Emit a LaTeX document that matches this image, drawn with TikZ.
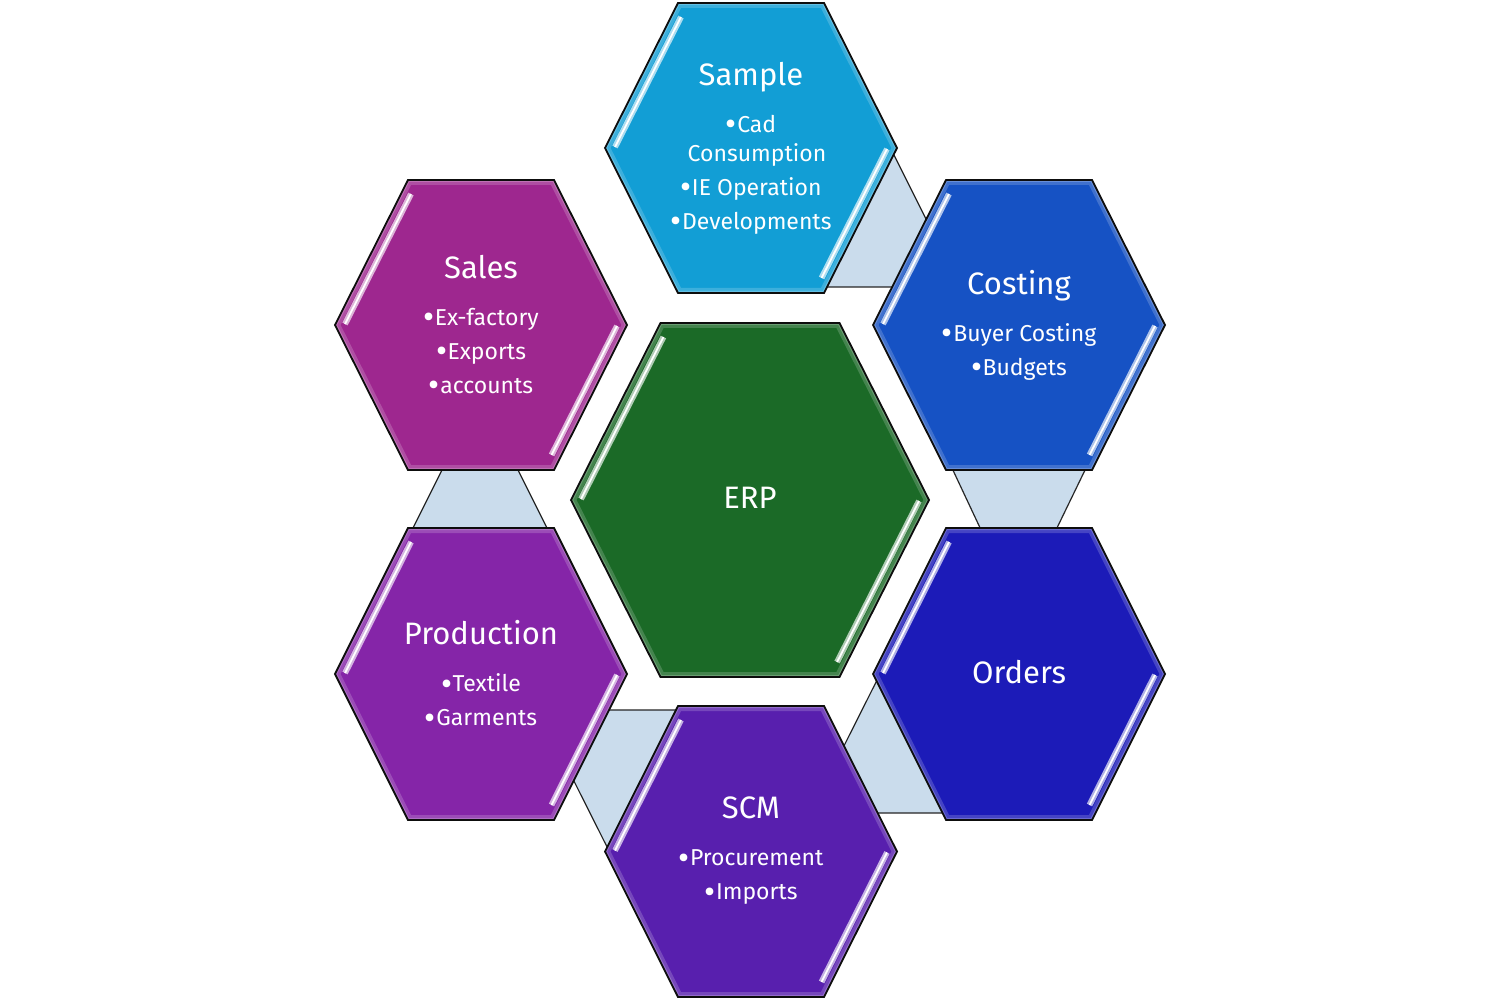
\documentclass[tikz,border=0pt]{standalone}
\usepackage{fontspec}
\setmainfont{Fira Sans}
\definecolor{cSample}{RGB}{18,158,213}
\definecolor{cCosting}{RGB}{22,82,196}
\definecolor{cOrders}{RGB}{28,27,184}
\definecolor{cSCM}{RGB}{88,31,174}
\definecolor{cProd}{RGB}{133,37,168}
\definecolor{cSales}{RGB}{158,39,143}
\definecolor{cERP}{RGB}{27,106,39}
\definecolor{cLink}{RGB}{202,220,236}
\newcommand\hxbody{\fontsize{23}{34}\selectfont}
\newcommand\hxtitle{\fontsize{31}{36}\selectfont}
\newcommand\hxbul{\raisebox{-3.2pt}{\fontsize{34}{34}\selectfont •}\kern0.5pt}
\tikzset{
  hexline/.style={draw=black!95, line width=1.8pt, line join=miter},
  streakhalo/.style={line width=6pt},
  streakcore/.style={draw=white, line width=1.8pt},
  linkshape/.style={fill=cLink, draw=black!85, line width=1.2pt, line join=round},
  hextext/.style={text=white, align=center, font=\hxbody, inner sep=0pt},
}
% #1 cx, #2 cy, #3 half width, #4 half height, #5 colour
\newcommand\hexa[5]{%
  \def\hexcoords{({#1-#3},{#2}) -- ({#1-#3/2},{#2-#4}) -- ({#1+#3/2},{#2-#4}) -- ({#1+#3},{#2}) -- ({#1+#3/2},{#2+#4}) -- ({#1-#3/2},{#2+#4}) -- cycle}%
  \fill[#5] \hexcoords;
  \begin{scope}
    \clip \hexcoords;
    \draw[line width=10pt, #5!40!white, opacity=.3] \hexcoords;
    \draw[line width=4pt, #5!40!white, opacity=.4] \hexcoords;
  \end{scope}
  \draw[streakhalo, #5!35!white] ({#1-#3+10},{#2-1}) -- ({#1-#3+#3/2*(#4-14)/#4+10},{#2-#4+14});
  \draw[streakcore] ({#1-#3+10},{#2-1}) -- ({#1-#3+#3/2*(#4-14)/#4+10},{#2-#4+14});
  \draw[streakhalo, #5!35!white] ({#1+#3-10},{#2+1}) -- ({#1+#3-#3/2*(#4-15)/#4-10},{#2+#4-15});
  \draw[streakcore] ({#1+#3-10},{#2+1}) -- ({#1+#3-#3/2*(#4-15)/#4-10},{#2+#4-15});
  \draw[hexline] \hexcoords;
}
\begin{document}
\begin{tikzpicture}[x=1pt,y=-1pt]
\useasboundingbox[fill=white] (0,0) rectangle (1500,1000);
% connecting bands
\draw[linkshape] (892,151) -- (928,223) -- (897,287) -- (823,287) -- cycle;
\draw[linkshape] (951,466) -- (1087,466) -- (1055,532) -- (982,532) -- cycle;
\draw[linkshape] (878.6,677) -- (841.9,750) -- (874,813) -- (947,813) -- cycle;
\draw[linkshape] (680,710) -- (604,710) -- (571.4,776) -- (609.1,851) -- cycle;
\draw[linkshape] (444,466) -- (516,466) -- (549,532) -- (411,532) -- cycle;
% hexagons
\hexa{751}{148}{146}{145}{cSample}
\hexa{1019}{325}{146}{145}{cCosting}
\hexa{1019}{674}{146}{146}{cOrders}
\hexa{751}{851.5}{146}{145.5}{cSCM}
\hexa{481}{674}{146}{146}{cProd}
\hexa{481}{325}{146}{145}{cSales}
\hexa{750}{500}{179}{177}{cERP}
% texts
\node[hextext] (sample) at (751,148) {\hxtitle Sample\\[13pt] \hxbul Cad\\[-5pt] \hspace{12pt}Consumption\\ \hxbul IE Operation\\ \hxbul Developments};
\node[hextext] (costing) at (1019,325) {\hxtitle Costing\\[13pt] \hxbul Buyer Costing\\ \hxbul Budgets};
\node[hextext] (orders) at (1019,672) {\hxtitle Orders};
\node[hextext] (scm) at (751,851) {\hxtitle SCM\\[13pt] \hxbul Procurement\\ \hxbul Imports};
\node[hextext] (production) at (481,675) {\hxtitle Production\\[13pt] \hxbul Textile\\ \hxbul Garments};
\node[hextext] (sales) at (481,326) {\hxtitle Sales\\[13pt] \hxbul Ex-factory\\ \hxbul Exports\\ \hxbul accounts};
\node[hextext] (erp) at (750,498) {\hxtitle ERP};
\end{tikzpicture}
\end{document}
